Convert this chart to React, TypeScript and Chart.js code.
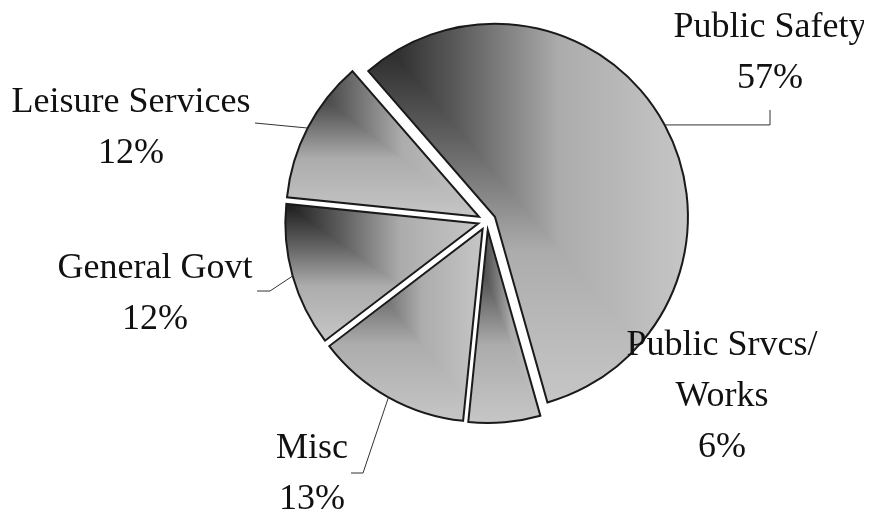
import React, { useEffect, useRef } from 'react';
import { Chart, registerables } from 'chart.js';

Chart.register(...registerables);

// ---- data ----
const categories = ['Public Safety', 'Public Srvcs/ Works', 'Misc', 'General Govt', 'Leisure Services'];
const labelLines = [['Public Safety'], ['Public Srvcs/', 'Works'], ['Misc'], ['General Govt'], ['Leisure Services']];
const values = [57, 6, 13, 12, 12];
const percentLabels = ['57%', '6%', '13%', '12%', '12%'];

// ---- layout / style (relative to pie centre, px) ----
const ROTATION = -41;
const RADIUS = 193;
const EXPLODE = 9;
const FONT_SIZE = 36;
const LINE_H = 51;
const labelAnchors: number[][] = [[283, -184], [235, 134], [-175, 237], [-332, 57], [-356, -109]];
const leaders: (Array<Array<number | null>> | null)[] = [
  [[283, null], [283, -111]],
  null,
  [[-124, 252], [-136, 252]],
  [[-217, 70], [-230, 70]],
  [[-232, -98]],
];
const gradStops: Array<[number, string]> = [
  [0, 'rgb(28,28,28)'],
  [0.3, 'rgb(96,96,96)'],
  [0.6, 'rgb(172,172,172)'],
  [1, 'rgb(198,198,198)'],
];

function sliceAngles(i: number) {
  const total = values.reduce((a, b) => a + b, 0);
  let acc = 0;
  for (let k = 0; k < i; k++) acc += values[k];
  const start = (ROTATION * Math.PI) / 180 - Math.PI / 2 + (acc / total) * Math.PI * 2;
  const end = start + (values[i] / total) * Math.PI * 2;
  return { start, end, mid: (start + end) / 2 };
}

function makeFill(chart: any, i: number) {
  const ca = chart.chartArea;
  if (!ca || i == null) return '#999';
  const cx = (ca.left + ca.right) / 2;
  const cy = (ca.top + ca.bottom) / 2;
  const { start, end, mid } = sliceAngles(i);
  const vx = cx + EXPLODE * Math.cos(mid);
  const vy = cy + EXPLODE * Math.sin(mid);
  const pts: number[][] = [[vx, vy]];
  pts.push([vx + RADIUS * Math.cos(start), vy + RADIUS * Math.sin(start)]);
  pts.push([vx + RADIUS * Math.cos(end), vy + RADIUS * Math.sin(end)]);
  for (let k = -8; k <= 8; k++) {
    const a = (k * Math.PI) / 2;
    if (a > start && a < end) pts.push([vx + RADIUS * Math.cos(a), vy + RADIUS * Math.sin(a)]);
  }
  const x0 = Math.min(...pts.map((p) => p[0]));
  const x1 = Math.max(...pts.map((p) => p[0]));
  const y0 = Math.min(...pts.map((p) => p[1]));
  const y1 = Math.max(...pts.map((p) => p[1]));
  const w = x1 - x0;
  const h = y1 - y0;
  const c = document.createElement('canvas');
  c.width = chart.width;
  c.height = chart.height;
  const g = c.getContext('2d')!;
  const gv = g.createLinearGradient(0, y0, 0, y1);
  gradStops.forEach(([o, col]) => gv.addColorStop(o, col));
  g.fillStyle = gv;
  g.fillRect(0, 0, c.width, c.height);
  const gh = g.createLinearGradient(x0, 0, x1, 0);
  gradStops.forEach(([o, col]) => gh.addColorStop(o, col));
  g.beginPath();
  g.moveTo(x0 - 10 * w, y0 - 10 * h);
  g.lineTo(x0 + 10 * w, y0 + 10 * h);
  g.lineTo(x0 + 10 * w, y0 - 10 * h);
  g.closePath();
  g.fillStyle = gh;
  g.fill();
  return chart.ctx.createPattern(c, 'no-repeat');
}

const explodePlugin = {
  id: 'explode',
  afterDatasetUpdate(chart: any, args: any) {
    args.meta.data.forEach((arc: any) => {
      const mid = (arc.startAngle + arc.endAngle) / 2;
      arc.x += EXPLODE * Math.cos(mid);
      arc.y += EXPLODE * Math.sin(mid);
    });
  },
};

const labelPlugin = {
  id: 'pieLabels',
  afterDraw(chart: any) {
    const ctx = chart.ctx;
    const ca = chart.chartArea;
    const cx = (ca.left + ca.right) / 2;
    const cy = (ca.top + ca.bottom) / 2;
    const meta = chart.getDatasetMeta(0);
    ctx.save();
    ctx.font = `${FONT_SIZE}px "Liberation Serif", "Times New Roman", serif`;
    ctx.fillStyle = '#111';
    ctx.textAlign = 'center';
    ctx.textBaseline = 'alphabetic';
    ctx.strokeStyle = '#333';
    ctx.lineWidth = 1;
    categories.forEach((_, i) => {
      const arc = meta.data[i];
      const lines = [...labelLines[i], percentLabels[i]];
      const [ax, ay] = labelAnchors[i];
      lines.forEach((t, k) => ctx.fillText(t, cx + ax, cy + ay + k * LINE_H));
      const ld = leaders[i];
      if (ld && arc) {
        const mid = (arc.startAngle + arc.endAngle) / 2;
        let px = arc.x + arc.outerRadius * Math.cos(mid);
        let py = arc.y + arc.outerRadius * Math.sin(mid);
        ctx.beginPath();
        ctx.moveTo(px, py);
        ld.forEach(([dx, dy]) => {
          px = dx == null ? px : cx + dx;
          py = dy == null ? py : cy + dy;
          ctx.lineTo(px, py);
        });
        ctx.stroke();
      }
    });
    ctx.restore();
  },
};

export default function App() {
  const ref = useRef<HTMLCanvasElement>(null);
  useEffect(() => {
    if (!ref.current) return;
    const chart = new Chart(ref.current, {
      type: 'pie',
      data: {
        labels: categories,
        datasets: [
          {
            data: values,
            backgroundColor: (c: any) => makeFill(c.chart, c.dataIndex),
            borderColor: '#1a1a1a',
            borderWidth: 2,
            borderJoinStyle: 'miter',
            radius: RADIUS,
            rotation: ROTATION,
          } as any,
        ],
      },
      options: {
        animation: false,
        responsive: true,
        maintainAspectRatio: false,
        events: [],
        layout: { padding: { left: 102, right: 0, top: 0, bottom: 76 } },
        plugins: { legend: { display: false }, tooltip: { enabled: false } },
      },
      plugins: [explodePlugin, labelPlugin],
    });
    return () => chart.destroy();
  }, []);
  return (
    <div style={{ position: 'relative', width: 856, height: 502 }}>
      <canvas ref={ref} />
    </div>
  );
}
